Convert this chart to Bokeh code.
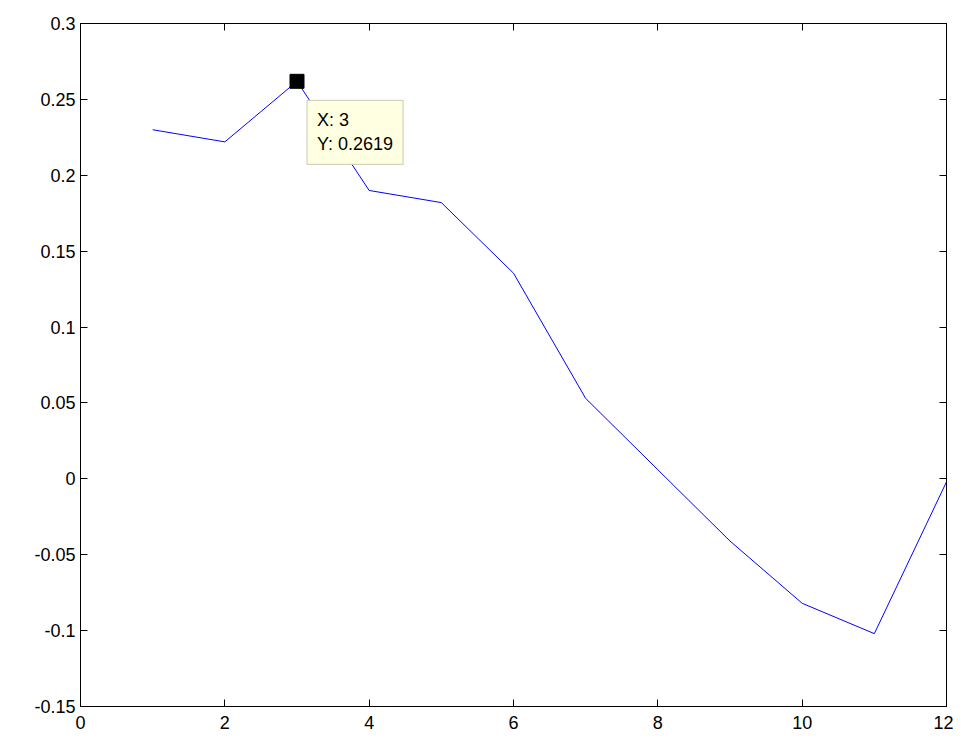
from bokeh.plotting import figure
from bokeh.models import Range1d, LinearAxis, Label, FixedTicker
from bokeh.embed import file_html
from bokeh.resources import INLINE

xs = [1, 2, 3, 4, 5, 6, 7, 8, 9, 10, 11, 12]
ys = [0.230, 0.222, 0.2619, 0.190, 0.182, 0.1355, 0.053, 0.006, -0.041, -0.082, -0.102, -0.002]
tip_x, tip_y = 3, 0.2619
xticks = [0, 2, 4, 6, 8, 10, 12]
yticks = [-0.15, -0.1, -0.05, 0, 0.05, 0.1, 0.15, 0.2, 0.25, 0.3]
ylabels = {-0.15: "-0.15", -0.1: "-0.1", -0.05: "-0.05", 0: "0", 0.05: "0.05",
           0.1: "0.1", 0.15: "0.15", 0.2: "0.2", 0.25: "0.25", 0.3: "0.3"}

p = figure(width=953, height=734, output_backend="svg", toolbar_location=None,
           x_range=Range1d(0, 12), y_range=Range1d(-0.15, 0.3),
           min_border_left=80, min_border_right=7, min_border_top=23, min_border_bottom=28)
p.grid.visible = False
p.outline_line_color = "black"
p.background_fill_color = "white"

p.line(xs, ys, line_color="#0000ff", line_width=1)
p.scatter([tip_x], [tip_y], marker="square", size=14, fill_color="black", line_color="black")

right = LinearAxis(ticker=FixedTicker(ticks=yticks), major_label_overrides={t: "" for t in yticks})
top = LinearAxis(ticker=FixedTicker(ticks=xticks), major_label_overrides={t: "" for t in xticks})
p.add_layout(right, "right")
p.add_layout(top, "above")
for ax in p.axis:
    ax.major_tick_in = 7
    ax.major_tick_out = 0
    ax.minor_tick_line_color = None
    ax.axis_line_color = "black"
    ax.major_label_text_font = "Liberation Sans"
    ax.major_label_text_font_size = "18px"
    ax.major_label_text_color = "black"
p.xaxis[0].ticker = FixedTicker(ticks=xticks)
p.yaxis[0].ticker = FixedTicker(ticks=yticks)
p.yaxis[0].major_label_overrides = ylabels

tip = Label(x=tip_x, y=tip_y, x_offset=10, y_offset=-83, text="X: 3\nY: 0.2619",
            text_font="Liberation Sans", text_font_size="18px", text_color="black",
            background_fill_color="#ffffe1", border_line_color="#c8c8b4",
            padding=10)
p.add_layout(tip)

open("out.html", "w").write(file_html(p, INLINE))
